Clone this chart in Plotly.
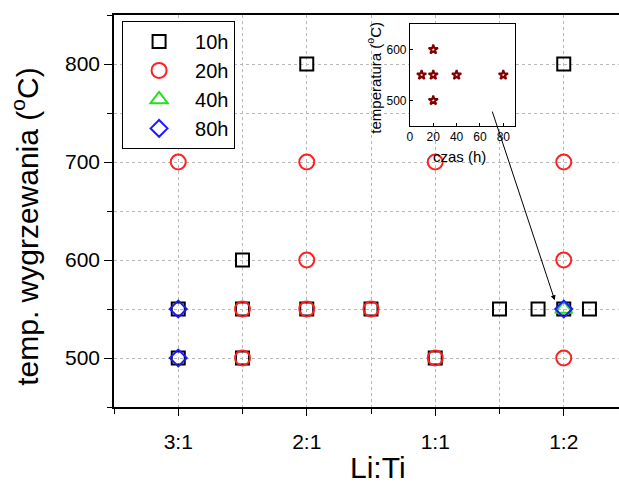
import plotly.graph_objects as go

# Main chart data (x: 1=3:1, 2=2:1, 3=1:1, 4=1:2; half-values lie between categories)
cat_vals = [1, 2, 3, 4]
cat_labels = ["3:1", "2:1", "1:1", "1:2"]

h10_x = [2, 4, 1.5, 1, 1.5, 2, 2.5, 3.5, 3.8, 4, 4.2, 1, 1.5, 3]
h10_y = [800, 800, 600, 550, 550, 550, 550, 550, 550, 550, 550, 500, 500, 500]

h20_x = [1, 2, 3, 4, 2, 4, 1.5, 2, 2.5, 1.5, 3, 4]
h20_y = [700, 700, 700, 700, 600, 600, 550, 550, 550, 500, 500, 500]

h40_x = [4]
h40_y = [550]

h80_x = [1, 1, 4]
h80_y = [550, 500, 550]

# Inset data
czas = [10, 20, 20, 20, 40, 80]
temperatura = [550, 600, 550, 500, 550, 550]

FONT = "Arial, Liberation Sans, sans-serif"

fig = go.Figure()
fig.add_trace(go.Scatter(x=h10_x, y=h10_y, mode="markers", name="10h",
                         marker=dict(symbol="square-open", size=13, color="black",
                                     line=dict(width=2, color="black"))))
fig.add_trace(go.Scatter(x=h20_x, y=h20_y, mode="markers", name="20h",
                         marker=dict(symbol="circle-open", size=15, color="#ff2020",
                                     line=dict(width=2, color="#ff2020"))))
fig.add_trace(go.Scatter(x=h40_x, y=h40_y, mode="markers", name="40h",
                         marker=dict(symbol="triangle-up-open", size=15, color="#20e020",
                                     line=dict(width=2, color="#20e020"))))
fig.add_trace(go.Scatter(x=h80_x, y=h80_y, mode="markers", name="80h",
                         marker=dict(symbol="diamond-open", size=13, color="#1a1aff",
                                     line=dict(width=2, color="#1a1aff"))))

fig.add_trace(go.Scatter(x=czas, y=temperatura, mode="markers", showlegend=False,
                         xaxis="x2", yaxis="y2",
                         marker=dict(symbol="star-open", size=7, color="#800000",
                                     line=dict(width=2, color="#800000"))))

grid = dict(showgrid=True, gridcolor="#b8b8b8", gridwidth=1, griddash="dot")

fig.update_layout(
    width=619, height=484,
    margin=dict(l=114, r=0, t=15, b=77),
    paper_bgcolor="white", plot_bgcolor="white",
    font=dict(family=FONT, color="black"),
    showlegend=True,
    legend=dict(x=0.016, y=0.985, xanchor="left", yanchor="top",
                bordercolor="black", borderwidth=1, bgcolor="white",
                font=dict(size=20, family=FONT), itemwidth=62, tracegroupgap=0),
    xaxis=dict(domain=[0, 1], range=[0.5, 4.43], tickmode="array",
               tickvals=cat_vals, ticktext=cat_labels,
               ticks="outside", ticklen=7, tickwidth=1.3, tickcolor="black",
               tickfont=dict(size=21), ticklabelstandoff=8,
               showline=True, linecolor="black", linewidth=1.5, mirror=True,
               zeroline=False,
               minor=dict(dtick=0.5, tick0=0.5, ticks="outside", ticklen=5,
                          tickwidth=1.3, tickcolor="black", **grid),
               **grid),
    yaxis=dict(domain=[0, 1], range=[450, 850], dtick=100, tick0=500,
               ticks="outside", ticklen=8, tickwidth=1.3, tickcolor="black",
               tickfont=dict(size=21),
               showline=True, linecolor="black", linewidth=1.5, mirror=False,
               zeroline=False,
               minor=dict(dtick=50, tick0=450, ticks="outside", ticklen=5,
                          tickwidth=1.3, tickcolor="black", **grid),
               **grid),
    xaxis2=dict(domain=[0.586, 0.794], anchor="y2", range=[0, 90], dtick=20, tick0=0,
                ticks="inside", ticklen=3, tickcolor="black", tickfont=dict(size=12),
                showline=True, linecolor="black", linewidth=1, mirror=True,
                showgrid=False, zeroline=False),
    yaxis2=dict(domain=[0.717, 0.977], anchor="x2", range=[450, 650], dtick=100, tick0=500,
                ticks="inside", ticklen=3, tickcolor="black", tickfont=dict(size=12),
                showline=True, linecolor="black", linewidth=1, mirror=True,
                showgrid=False, zeroline=False),
    annotations=[
        dict(text="Li:Ti", xref="paper", yref="paper", x=0.523, y=-0.155,
             xanchor="center", yanchor="middle", showarrow=False,
             font=dict(size=30, family=FONT)),
        dict(text="temp. wygrzewania (<sup>o</sup>C)", xref="paper", yref="paper",
             x=-0.176, y=0.46, xanchor="center", yanchor="middle", textangle=-90,
             showarrow=False, font=dict(size=30, family=FONT)),
        dict(text="czas (h)", xref="paper", yref="paper", x=0.685, y=0.64,
             xanchor="center", yanchor="middle", showarrow=False,
             font=dict(size=15, family=FONT)),
        dict(text="temperatura (<sup>o</sup>C)", xref="paper", yref="paper",
             x=0.514, y=0.839, xanchor="center", yanchor="middle", textangle=-90,
             showarrow=False, font=dict(size=15, family=FONT)),
        dict(text="", x=3.93, y=559, ax=3.44, ay=753, xref="x", yref="y",
             axref="x", ayref="y", showarrow=True, arrowhead=2, arrowsize=1,
             arrowwidth=1, arrowcolor="black"),
    ],
)

fig.write_html("out.html")
